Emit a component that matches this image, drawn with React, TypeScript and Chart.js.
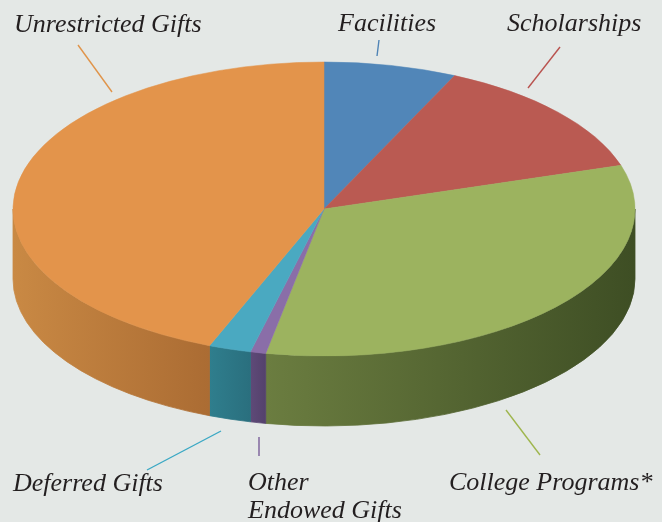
import React, { useEffect, useRef } from "react";
import { Chart, registerables } from "chart.js";

Chart.register(...registerables);

// ---- data ----
const categories = [
  "Facilities",
  "Scholarships",
  "College Programs*",
  "Other Endowed Gifts",
  "Deferred Gifts",
  "Unrestricted Gifts",
];
const shares = [6.9, 13.3, 32.8, 0.8, 2.2, 44.0];

// ---- styles ----
const topColors = ["#5186b8", "#ba5a52", "#9cb35f", "#8a6ea8", "#4aa9c1", "#e3944b"];
const sideLight = ["#3e6990", "#91443f", "#6b7d40", "#5e4a78", "#2f7e8d", "#c98944"];
const sideDark = ["#34597a", "#7a3934", "#3e4e24", "#54416c", "#2a6f7e", "#ab6c33"];
const lineColors = ["#4f83b5", "#b9534f", "#9fb64e", "#7a5f99", "#3aa8c4", "#e0944a"];

// label layout: text lines, left x, first baseline y, leader line endpoints
const labelText = [
  ["Facilities"],
  ["Scholarships"],
  ["College Programs*"],
  ["Other", "Endowed Gifts"],
  ["Deferred Gifts"],
  ["Unrestricted Gifts"],
];
const labelPos = [
  [338, 31],
  [507, 31],
  [449, 490],
  [248, 490],
  [13, 491],
  [14, 32],
];
const leaderLines = [
  [379, 40, 377, 56],
  [560, 47, 528, 88],
  [506, 410, 540, 455],
  [259, 437, 259, 456],
  [147, 470, 221, 431],
  [78, 45, 112, 92],
];

const GEOM = { cx: 324, cy: 209, rx: 311, ry: 147, depth: 70 };
const BG = "#e4e8e6";

const pie3d = {
  id: "pie3d",
  beforeDraw(chart: any) {
    const ctx = chart.ctx;
    ctx.save();
    ctx.fillStyle = BG;
    ctx.fillRect(0, 0, chart.width, chart.height);
    ctx.restore();
  },
  beforeDatasetsDraw(chart: any) {
    const ctx = chart.ctx;
    const arcs = chart.getDatasetMeta(0).data;
    if (!arcs.length) return;
    const { cx, cy, rx, ry, depth } = GEOM;
    // side walls (visible lower half)
    arcs.forEach((arc: any, i: number) => {
      const p = arc.getProps(["startAngle", "endAngle"], true);
      const a = Math.max(p.startAngle, 0);
      const b = Math.min(p.endAngle, Math.PI);
      if (b <= a) return;
      const xRight = cx + rx * Math.cos(a);
      const xLeft = cx + rx * Math.cos(b);
      const g = ctx.createLinearGradient(xLeft, 0, xRight + 0.01, 0);
      g.addColorStop(0, sideLight[i]);
      g.addColorStop(1, sideDark[i]);
      ctx.save();
      ctx.beginPath();
      ctx.ellipse(cx, cy, rx, ry, 0, a, b, false);
      ctx.ellipse(cx, cy + depth, rx, ry, 0, b, a, true);
      ctx.closePath();
      ctx.fillStyle = g;
      ctx.fill();
      ctx.strokeStyle = g;
      ctx.lineWidth = 0.8;
      ctx.stroke();
      ctx.restore();
    });
    // flatten the top face into an ellipse
    const p0 = arcs[0].getProps(["x", "y", "outerRadius"], true);
    ctx.save();
    ctx.translate(cx, cy);
    ctx.scale(rx / p0.outerRadius, ry / p0.outerRadius);
    ctx.translate(-p0.x, -p0.y);
  },
  afterDatasetsDraw(chart: any) {
    chart.ctx.restore();
  },
  afterDraw(chart: any) {
    const ctx = chart.ctx;
    ctx.save();
    leaderLines.forEach((l, i) => {
      ctx.beginPath();
      ctx.moveTo(l[0], l[1]);
      ctx.lineTo(l[2], l[3]);
      ctx.strokeStyle = lineColors[i];
      ctx.lineWidth = 1.4;
      ctx.stroke();
    });
    ctx.fillStyle = "#231f20";
    ctx.font = "italic 26px 'Liberation Serif', serif";
    ctx.textBaseline = "alphabetic";
    labelText.forEach((lines, i) => {
      lines.forEach((t, j) => {
        ctx.fillText(t, labelPos[i][0], labelPos[i][1] + j * 28);
      });
    });
    ctx.restore();
  },
};

export default function App() {
  const ref = useRef<HTMLCanvasElement>(null);
  useEffect(() => {
    if (!ref.current) return;
    const chart = new Chart(ref.current, {
      type: "pie",
      data: {
        labels: categories,
        datasets: [
          {
            data: shares,
            backgroundColor: topColors,
            borderColor: topColors,
            borderWidth: 0.6,
            clip: false,
          } as any,
        ],
      },
      options: {
        responsive: false,
        animation: false,
        events: [],
        layout: { padding: 0 },
        plugins: { legend: { display: false }, tooltip: { enabled: false } },
      },
      plugins: [pie3d],
    });
    return () => chart.destroy();
  }, []);
  return (
    <div style={{ position: "fixed", left: 0, top: 0, width: 662, height: 522, background: BG }}>
      <canvas ref={ref} width={662} height={522} style={{ display: "block" }} />
    </div>
  );
}
